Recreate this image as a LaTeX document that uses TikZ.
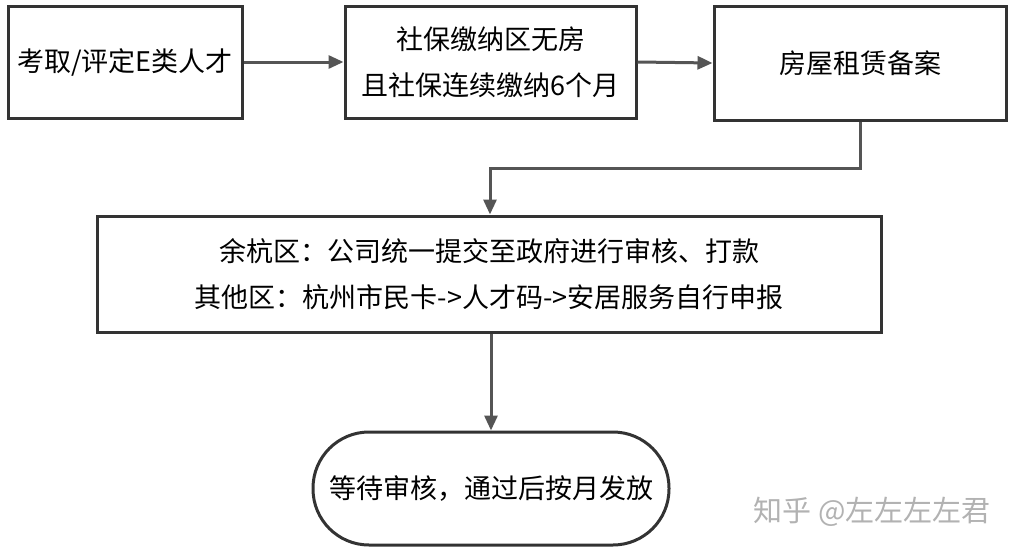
\documentclass[tikz,border=0pt]{standalone}
\usepackage{fontspec}
\setmainfont{Noto Sans CJK SC}
\usetikzlibrary{arrows.meta}
\definecolor{ln}{HTML}{333333}
\definecolor{ar}{HTML}{555555}
\begin{document}
\begin{tikzpicture}[x=1pt,y=-1pt,
  box/.style={draw=ln,line width=3pt,inner sep=0pt,align=center,font=\fontsize{27}{46}\selectfont},
  conn/.style={draw=ar,line width=3pt,-{Triangle[length=15pt,width=13pt]}}]
\useasboundingbox (0,0) rectangle (1020,552);
\node[box,minimum width=234pt,minimum height=112pt] (a) at (125,62) {考取/评定E类人才};
\node[box,minimum width=291pt,minimum height=112pt] (b) at (490.5,62) {社保缴纳区无房\\且社保连续缴纳6个月};
\node[box,minimum width=292pt,minimum height=114pt] (c) at (860,63) {房屋租赁备案};
\node[box,minimum width=784pt,minimum height=116pt] (d) at (489,274) {余杭区：公司统一提交至政府进行审核、打款\\其他区：杭州市民卡->人才码->安居服务自行申报};
\node[box,minimum width=356pt,minimum height=113pt,rounded corners=56pt] (e) at (491,488.5) {等待审核，通过后按月发放};
\coordinate (k1) at (860,168);
\coordinate (k2) at (490,168);
\draw[conn] (a.east) -- (b.west);
\draw[conn] (b.east) -- (c.west);
\draw[conn] (c.south) -- (k1) -- (k2) -- (d.north -| k2);
\draw[conn] (d.south -| e.north) -- (e.north);
\node[text=white!40!gray,font=\fontsize{29}{32}\selectfont] (w) at (872,512) {知乎 @左左左左君};
\end{tikzpicture}
\end{document}
